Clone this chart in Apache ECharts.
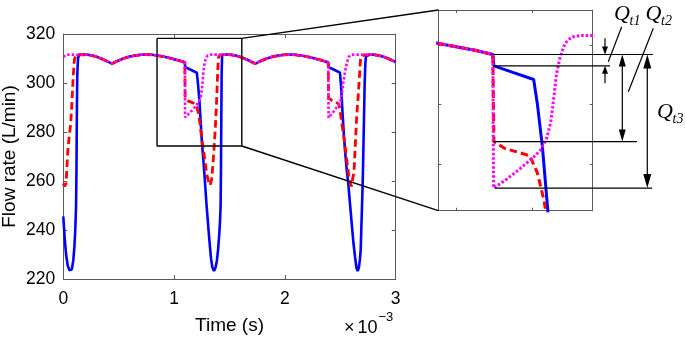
<!DOCTYPE html>
<html><head><meta charset="utf-8">
<script src="https://cdn.jsdelivr.net/npm/echarts@6/dist/echarts.min.js"></script>
<style>html,body{margin:0;padding:0;background:#fff}#c{width:685px;height:338px}</style>
</head><body><div id="c"></div>
<script>
// ---- data (time in ms, flow rate in L/min) ----
const xTickLabels = ['0', '1', '2', '3'];
const yTickValues = [220, 240, 260, 280, 300, 320];

const plateau1 = [[0.14,311.5],[0.18,311.6],[0.22,311.5],[0.26,311.2],[0.30,310.7],[0.34,310.0],[0.38,309.2],[0.42,308.3],[0.44,307.9],[0.47,308.6],[0.51,309.4],[0.55,310.1],[0.60,310.8],[0.65,311.2],[0.70,311.5],[0.75,311.6],[0.80,311.5],[0.85,311.2],[0.90,310.8],[0.95,310.3],[1.00,309.7],[1.05,309.1],[1.097,308.4]];
const plateau2 = [[1.434,311.5],[1.474,311.6],[1.514,311.5],[1.554,311.2],[1.594,310.7],[1.634,310.0],[1.674,309.2],[1.714,308.3],[1.734,307.9],[1.764,308.6],[1.804,309.4],[1.844,310.1],[1.894,310.8],[1.944,311.2],[1.994,311.5],[2.044,311.6],[2.094,311.5],[2.144,311.2],[2.194,310.8],[2.244,310.3],[2.294,309.7],[2.344,309.1],[2.391,308.4]];
const plateau3 = [[2.74,311.5],[2.775,311.6],[2.81,311.5],[2.85,311.2],[2.89,310.7],[2.93,310.0],[2.97,309.2],[3.0,308.5]];

const blueDip1 = [[0,245.5],[0.012,237],[0.025,230],[0.04,225.5],[0.055,223.6],[0.066,223.3],[0.077,224],[0.09,227.5],[0.1,233],[0.108,240],[0.115,249.5],[0.119,265],[0.122,285],[0.126,303],[0.132,309.5]];
const blueDip2 = [[1.100,306.5],[1.15,305.4],[1.205,304.2],[1.215,300],[1.228,293],[1.24,284],[1.252,275],[1.265,268],[1.275,262],[1.294,249.5],[1.318,236],[1.333,228.5],[1.345,224.8],[1.36,223.3],[1.373,224.5],[1.386,227.5],[1.397,232],[1.407,238],[1.414,243],[1.42,250],[1.423,265],[1.426,285],[1.429,303],[1.432,309.5]];
const blueDip3 = [[2.394,306.5],[2.444,305.4],[2.497,304.2],[2.508,298],[2.521,287],[2.532,279],[2.542,272.7],[2.557,265],[2.572,259],[2.588,250.5],[2.603,242.7],[2.618,235],[2.633,229],[2.645,224.8],[2.656,223.2],[2.667,224.5],[2.677,228],[2.684,231.8],[2.693,245.4],[2.702,259],[2.708,272],[2.714,286.2],[2.72,300],[2.726,308],[2.732,311]];

const redDip1 = [[0,259],[0.012,257.8],[0.025,259],[0.04,272],[0.055,279],[0.068,284],[0.08,294],[0.09,303],[0.1,309.5],[0.115,311.4]];
const redDip2 = [[1.1,293.8],[1.13,292.6],[1.165,292.0],[1.195,291.4],[1.215,288.5],[1.232,284],[1.245,279],[1.257,275],[1.273,270],[1.294,263],[1.312,259.3],[1.325,258.3],[1.338,260.5],[1.348,265.5],[1.36,273],[1.37,280],[1.384,293],[1.393,304],[1.4,310.3],[1.412,311.4],[1.422,311.5]];
const redDip3 = [[2.394,293.8],[2.42,293],[2.46,292.2],[2.485,291.5],[2.5,288],[2.515,283],[2.527,279.5],[2.543,274],[2.558,268.6],[2.581,260.5],[2.6,257.8],[2.612,257.7],[2.624,264],[2.633,272.7],[2.648,286.2],[2.669,299.9],[2.684,310.7],[2.7,311.4],[2.72,311.5]];

const pinkLead = [[0,310.6],[0.02,311.3],[0.05,311.6],[0.1,311.6]];
const pinkDip2 = [[1.099,286],[1.13,287.3],[1.17,289.3],[1.205,291.2],[1.225,292.5],[1.24,294.5],[1.25,297],[1.258,301],[1.265,305],[1.275,308],[1.288,310.3],[1.305,311.3],[1.33,311.6],[1.39,311.6]];
const pinkDip3 = [[2.394,285.8],[2.43,287.8],[2.47,290.2],[2.497,291.8],[2.512,295],[2.527,300],[2.542,304.5],[2.558,308],[2.575,310.6],[2.595,311.4],[2.62,311.6],[2.69,311.6]];

const zoomX = [0.846, 1.611];
const zoomY = [274.3, 318.2];
const insetX = [0.953, 1.361];
const insetY = [282.2, 315.86];
const insetXTicks = [1.0, 1.2];
const insetYTicks = [290, 300, 310];

// ---- series assembly ----
const blueData = [...blueDip1, ...plateau1, ...blueDip2, ...plateau2, ...blueDip3, ...plateau3];
const redData  = [...redDip1, ...plateau1, ...redDip2, ...plateau2, ...redDip3, ...plateau3];
const pinkData = [...pinkLead, ...plateau1, ...pinkDip2, ...plateau2, ...pinkDip3, ...plateau3];
const zoomBoxData = [[zoomX[0],zoomY[1]],[zoomX[1],zoomY[1]],[zoomX[1],zoomY[0]],[zoomX[0],zoomY[0]],[zoomX[0],zoomY[1]]];

const FONT = 'Liberation Sans';
const SERIF = 'Liberation Serif';
const AX = '#5a5a5a';
const chart = echarts.init(document.getElementById('c'), null, {renderer: 'canvas'});

function axisBase(extra) {
  return Object.assign({
    type: 'value',
    axisLine: {show: true, onZero: false, lineStyle: {color: AX, width: 1}},
    axisTick: {show: true, inside: true, length: 4, lineStyle: {color: AX}},
    splitLine: {show: false},
    axisLabel: {show: false}
  }, extra);
}

const lineSeries = (name, data, xi, yi, style, z) => ({
  name, type: 'line', data, xAxisIndex: xi, yAxisIndex: yi,
  symbol: 'none', showSymbol: false, clip: true, z,
  lineStyle: style, animation: false
});
const blueStyle = {color: '#0000ff', width: 2.6, cap: 'butt'};
const redStyle = {color: '#ff0000', width: 2.8, type: [7.5, 4], cap: 'butt'};
const pinkStyle = {color: '#ff00ff', width: 2.6, type: [2.5, 2], cap: 'butt'};

chart.setOption({
  animation: false,
  textStyle: {fontFamily: FONT},
  grid: [
    {left: 63.3, top: 34, width: 332.4, height: 245, containLabel: false, outerBoundsMode: 'none'},
    {left: 438.3, top: 10, width: 154.4, height: 200.7, containLabel: false, outerBoundsMode: 'none'}
  ],
  xAxis: [
    axisBase({gridIndex: 0, min: 0, max: 3, interval: 1, position: 'bottom',
      name: 'Time (s)', nameLocation: 'middle', nameGap: 37,
      nameTextStyle: {fontFamily: FONT, fontSize: 19, color: '#000', verticalAlign: 'top'},
      axisLabel: {show: true, margin: 11, fontFamily: FONT, fontSize: 17.5, color: '#000',
        formatter: (v) => xTickLabels[Math.round(v)] ?? ''}}),
    axisBase({gridIndex: 0, min: 0, max: 3, interval: 1, position: 'top'}),
    axisBase({gridIndex: 1, min: insetX[0], max: insetX[1], position: 'bottom',
      axisTick: {show: true, inside: true, length: 3, lineStyle: {color: AX}, customValues: insetXTicks}}),
    axisBase({gridIndex: 1, min: insetX[0], max: insetX[1], position: 'top',
      axisTick: {show: true, inside: true, length: 3, lineStyle: {color: AX}, customValues: insetXTicks}})
  ],
  yAxis: [
    axisBase({gridIndex: 0, min: 220, max: 320, interval: 20, position: 'left',
      name: 'Flow rate (L/min)', nameLocation: 'middle', nameGap: 44.5,
      nameTextStyle: {fontFamily: FONT, fontSize: 19, color: '#000'},
      axisLabel: {show: true, margin: 8, fontFamily: FONT, fontSize: 17.5, color: '#000'}}),
    axisBase({gridIndex: 0, min: 220, max: 320, interval: 20, position: 'right'}),
    axisBase({gridIndex: 1, min: insetY[0], max: insetY[1], position: 'left',
      axisTick: {show: true, inside: true, length: 3, lineStyle: {color: AX}, customValues: insetYTicks}}),
    axisBase({gridIndex: 1, min: insetY[0], max: insetY[1], position: 'right',
      axisTick: {show: true, inside: true, length: 3, lineStyle: {color: AX}, customValues: insetYTicks}})
  ],
  series: [
    lineSeries('blue', blueData, 0, 0, blueStyle, 2),
    lineSeries('red', redData, 0, 0, redStyle, 3),
    lineSeries('pink', pinkData, 0, 0, pinkStyle, 4),
    lineSeries('blueIn', blueData, 2, 2, Object.assign({}, blueStyle, {width: 3}), 2),
    lineSeries('redIn', redData, 2, 2, Object.assign({}, redStyle, {width: 3}), 3),
    lineSeries('pinkIn', pinkData, 2, 2, Object.assign({}, pinkStyle, {width: 3}), 4),
    lineSeries('zoomBox', zoomBoxData, 0, 0, {color: '#000', width: 1.4}, 6)
  ]
});

// ---- annotations ----
const pMain = (p) => chart.convertToPixel({xAxisIndex: 0, yAxisIndex: 0}, p);
const pIn = (p) => chart.convertToPixel({xAxisIndex: 2, yAxisIndex: 2}, p);
const boxTR = pMain([zoomX[1], zoomY[1]]);
const boxBR = pMain([zoomX[1], zoomY[0]]);
const inTL = pIn([insetX[0], insetY[1]]);
const inBL = pIn([insetX[0], insetY[0]]);

const dropT = plateau1[plateau1.length - 1][0];
const yTop = pIn([dropT, plateau1[plateau1.length - 1][1]])[1];
const yBlue = pIn([dropT, blueDip2[0][1]])[1];
const yRed = pIn([dropT, redDip2[0][1]])[1];
const yPink = pIn([dropT, pinkDip2[0][1]])[1];
const xDrop = pIn([dropT, 300])[0];

const g = [];
const ln = (x1, y1, x2, y2, w) => g.push({type: 'line', z: 50, shape: {x1, y1, x2, y2}, style: {stroke: '#000', lineWidth: w || 1.2}, silent: true});
const head = (x, tip, dir, len, w) => g.push({type: 'polygon', z: 50, shape: {points: [[x, tip], [x - w / 2, tip - dir * len], [x + w / 2, tip - dir * len]]}, style: {fill: '#000'}, silent: true});
const txt = (x, y, t, size) => g.push({type: 'text', z: 50, x, y, style: {text: t, font: 'italic ' + size + 'px "' + SERIF + '"', fill: '#000', verticalAlign: 'middle', align: 'left'}, silent: true});
const stxt = (x, y, t, size) => g.push({type: 'text', z: 50, x, y, style: {text: t, font: size + 'px "' + FONT + '"', fill: '#000', verticalAlign: 'middle', align: 'left'}, silent: true});

// connectors
ln(boxTR[0], boxTR[1], inTL[0], inTL[1], 1.4);
ln(boxBR[0], boxBR[1], inBL[0], inBL[1], 1.4);
// level lines
ln(xDrop, yTop, 653, yTop);
ln(xDrop, yBlue, 610, yBlue);
ln(xDrop, yRed, 637, yRed);
ln(xDrop + 2, yPink, 652, yPink);
// Qt1
ln(605, 38.3, 605, yTop - 6); head(605, yTop, 1, 8, 6);
ln(605, 83.3, 605, yBlue + 6); head(605, yBlue, -1, 8, 6);
// Qt2
ln(622.3, yTop + 10, 622.3, yRed - 10); head(622.3, yTop, -1, 12, 7); head(622.3, yRed, 1, 12, 7);
// Qt3
ln(647.3, yTop + 12, 647.3, yPink - 12); head(647.3, yTop, -1, 14, 8); head(647.3, yPink, 1, 14, 8);
// leaders
ln(621.7, 26.7, 608.3, 61.7);
ln(653.3, 28.3, 628.3, 91.7);
// labels
txt(614, 14, 'Q', 22); txt(629.5, 21, 't1', 14);
txt(645.5, 14, 'Q', 22); txt(661, 21, 't2', 14);
txt(657, 112, 'Q', 22); txt(672.5, 119, 't3', 14);
// x10^-3
stxt(344, 328.5, '\u00d7', 18);
stxt(357.5, 328.5, '10', 18);
stxt(378.5, 317.5, '\u22123', 13);

chart.setOption({graphic: g});
</script>
</body></html>
